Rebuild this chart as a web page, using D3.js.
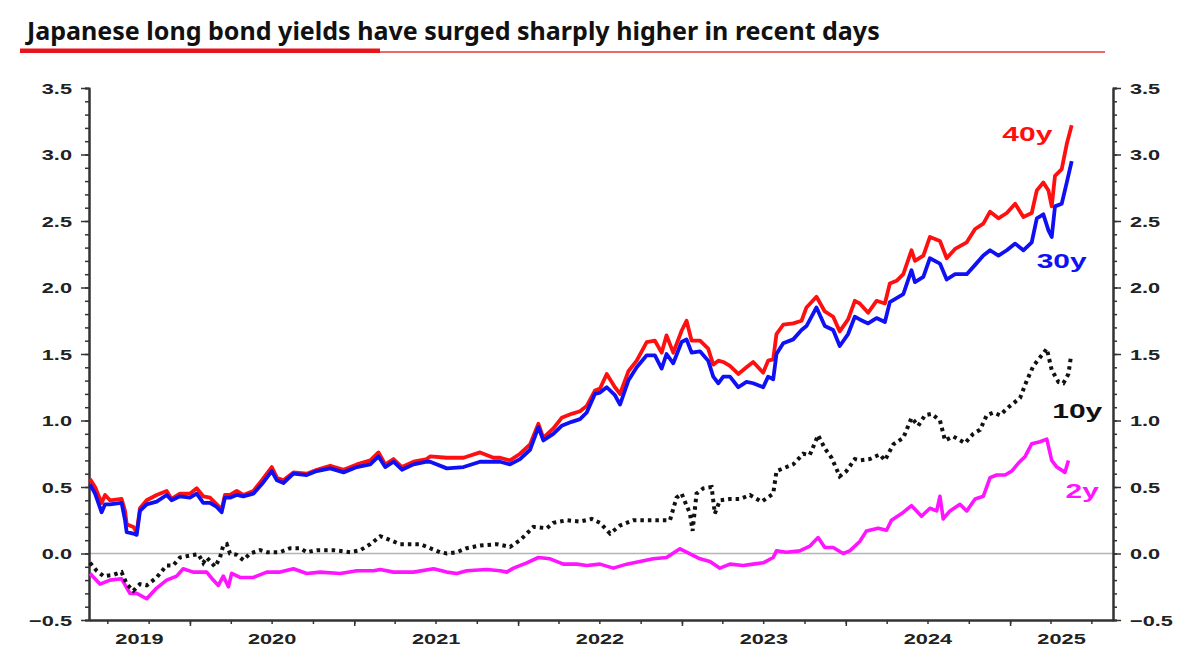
<!DOCTYPE html>
<html>
<head>
<meta charset="utf-8">
<script src="https://cdn.jsdelivr.net/npm/d3@7"></script>
<style>
  html, body { margin: 0; padding: 0; background: #fff; }
  svg { display: block; }
</style>
</head>
<body>
<svg id="chart" width="1200" height="671"></svg>
<script>
// ---------- DATA (decimal year, yield %) ----------
const titleText = "Japanese long bond yields have surged sharply higher in recent days";
const yTickValues = [-0.5, 0.0, 0.5, 1.0, 1.5, 2.0, 2.5, 3.0, 3.5];
const yearLabels = [2019, 2020, 2021, 2022, 2023, 2024, 2025];
const seriesNames = ["40y", "30y", "10y", "2y"];

const y40 = [[2019.390,0.56],[2019.421,0.50],[2019.461,0.38],[2019.482,0.44],[2019.512,0.40],[2019.583,0.41],[2019.604,0.32],[2019.614,0.22],[2019.655,0.20],[2019.675,0.16],[2019.695,0.34],[2019.736,0.40],[2019.797,0.44],[2019.858,0.47],[2019.888,0.41],[2019.939,0.45],[2020.000,0.45],[2020.041,0.49],[2020.081,0.43],[2020.122,0.42],[2020.163,0.37],[2020.193,0.33],[2020.213,0.44],[2020.244,0.44],[2020.285,0.47],[2020.325,0.44],[2020.386,0.47],[2020.437,0.55],[2020.498,0.65],[2020.529,0.57],[2020.569,0.55],[2020.630,0.61],[2020.711,0.60],[2020.772,0.63],[2020.854,0.66],[2020.935,0.63],[2021.016,0.67],[2021.098,0.70],[2021.148,0.76],[2021.189,0.67],[2021.240,0.71],[2021.291,0.65],[2021.362,0.69],[2021.443,0.71],[2021.463,0.73],[2021.565,0.72],[2021.667,0.72],[2021.768,0.76],[2021.850,0.72],[2021.890,0.72],[2021.951,0.70],[2022.012,0.75],[2022.073,0.82],[2022.124,0.975],[2022.154,0.87],[2022.215,0.94],[2022.266,1.02],[2022.327,1.05],[2022.378,1.07],[2022.419,1.11],[2022.469,1.225],[2022.500,1.24],[2022.541,1.35],[2022.591,1.25],[2022.622,1.20],[2022.673,1.37],[2022.724,1.45],[2022.785,1.59],[2022.835,1.60],[2022.876,1.51],[2022.906,1.64],[2022.947,1.51],[2022.998,1.675],[2023.028,1.75],[2023.059,1.60],[2023.110,1.60],[2023.160,1.54],[2023.191,1.42],[2023.222,1.45],[2023.252,1.44],[2023.293,1.41],[2023.344,1.35],[2023.394,1.40],[2023.435,1.44],[2023.496,1.36],[2023.526,1.45],[2023.557,1.46],[2023.577,1.65],[2023.618,1.72],[2023.679,1.73],[2023.730,1.75],[2023.760,1.85],[2023.821,1.93],[2023.872,1.82],[2023.923,1.78],[2023.963,1.67],[2024.014,1.76],[2024.055,1.90],[2024.085,1.88],[2024.136,1.81],[2024.187,1.90],[2024.238,1.88],[2024.268,2.03],[2024.309,2.05],[2024.350,2.10],[2024.400,2.28],[2024.421,2.20],[2024.472,2.24],[2024.512,2.38],[2024.573,2.35],[2024.614,2.22],[2024.665,2.29],[2024.736,2.34],[2024.787,2.44],[2024.837,2.48],[2024.878,2.57],[2024.929,2.52],[2024.980,2.56],[2025.031,2.63],[2025.081,2.53],[2025.132,2.56],[2025.163,2.73],[2025.203,2.79],[2025.234,2.73],[2025.254,2.61],[2025.274,2.84],[2025.315,2.89],[2025.346,3.08],[2025.376,3.22]];

const y30 = [[2019.390,0.52],[2019.421,0.45],[2019.461,0.31],[2019.482,0.37],[2019.512,0.37],[2019.583,0.38],[2019.604,0.25],[2019.614,0.16],[2019.655,0.15],[2019.675,0.14],[2019.695,0.32],[2019.736,0.37],[2019.797,0.39],[2019.858,0.44],[2019.888,0.40],[2019.939,0.43],[2020.000,0.42],[2020.041,0.45],[2020.081,0.38],[2020.122,0.38],[2020.163,0.35],[2020.193,0.31],[2020.213,0.42],[2020.244,0.42],[2020.285,0.44],[2020.325,0.43],[2020.386,0.45],[2020.437,0.52],[2020.498,0.62],[2020.529,0.55],[2020.569,0.53],[2020.630,0.60],[2020.711,0.59],[2020.772,0.62],[2020.854,0.64],[2020.935,0.61],[2021.016,0.65],[2021.098,0.67],[2021.148,0.73],[2021.189,0.65],[2021.240,0.69],[2021.291,0.63],[2021.362,0.67],[2021.443,0.69],[2021.463,0.69],[2021.565,0.64],[2021.667,0.65],[2021.768,0.69],[2021.850,0.69],[2021.890,0.69],[2021.951,0.67],[2022.012,0.71],[2022.073,0.78],[2022.124,0.95],[2022.154,0.85],[2022.215,0.90],[2022.266,0.96],[2022.327,0.99],[2022.378,1.01],[2022.419,1.06],[2022.469,1.20],[2022.500,1.21],[2022.541,1.25],[2022.591,1.19],[2022.622,1.12],[2022.673,1.30],[2022.724,1.40],[2022.785,1.49],[2022.835,1.49],[2022.876,1.39],[2022.906,1.50],[2022.947,1.43],[2022.998,1.59],[2023.028,1.61],[2023.059,1.51],[2023.110,1.52],[2023.160,1.45],[2023.191,1.33],[2023.222,1.28],[2023.252,1.33],[2023.293,1.33],[2023.344,1.25],[2023.394,1.29],[2023.435,1.28],[2023.496,1.25],[2023.526,1.33],[2023.557,1.31],[2023.577,1.50],[2023.618,1.58],[2023.679,1.61],[2023.730,1.68],[2023.760,1.71],[2023.821,1.85],[2023.872,1.71],[2023.923,1.68],[2023.963,1.56],[2024.014,1.65],[2024.055,1.78],[2024.085,1.76],[2024.136,1.73],[2024.187,1.77],[2024.238,1.74],[2024.268,1.89],[2024.309,1.92],[2024.350,1.95],[2024.400,2.13],[2024.421,2.04],[2024.472,2.08],[2024.512,2.22],[2024.573,2.18],[2024.614,2.06],[2024.665,2.10],[2024.736,2.10],[2024.787,2.17],[2024.837,2.24],[2024.878,2.28],[2024.929,2.24],[2024.980,2.28],[2025.031,2.33],[2025.081,2.28],[2025.132,2.34],[2025.163,2.52],[2025.203,2.55],[2025.234,2.43],[2025.254,2.38],[2025.274,2.61],[2025.315,2.63],[2025.346,2.79],[2025.376,2.95]];

const y10 = [[2019.390,-0.07],[2019.431,-0.13],[2019.472,-0.17],[2019.533,-0.16],[2019.583,-0.14],[2019.614,-0.23],[2019.655,-0.28],[2019.695,-0.23],[2019.736,-0.24],[2019.797,-0.18],[2019.858,-0.09],[2019.898,-0.09],[2019.939,-0.03],[2020.000,-0.015],[2020.051,-0.005],[2020.081,-0.07],[2020.102,-0.03],[2020.153,-0.10],[2020.183,-0.03],[2020.203,0.06],[2020.224,0.07],[2020.244,0.00],[2020.285,-0.01],[2020.325,-0.05],[2020.366,0.00],[2020.427,0.025],[2020.468,0.01],[2020.549,0.01],[2020.610,0.04],[2020.671,0.04],[2020.711,0.01],[2020.772,0.025],[2020.874,0.025],[2020.976,0.01],[2021.037,0.025],[2021.098,0.07],[2021.159,0.13],[2021.220,0.10],[2021.281,0.07],[2021.341,0.07],[2021.402,0.07],[2021.463,0.04],[2021.524,0.01],[2021.565,0.00],[2021.626,0.01],[2021.687,0.04],[2021.768,0.06],[2021.870,0.07],[2021.951,0.05],[2022.012,0.10],[2022.094,0.20],[2022.175,0.19],[2022.215,0.23],[2022.297,0.25],[2022.378,0.24],[2022.449,0.26],[2022.500,0.23],[2022.561,0.15],[2022.622,0.21],[2022.703,0.25],[2022.785,0.25],[2022.845,0.25],[2022.927,0.25],[2022.967,0.42],[2022.998,0.45],[2023.049,0.30],[2023.065,0.17],[2023.089,0.45],[2023.130,0.49],[2023.181,0.50],[2023.201,0.30],[2023.232,0.40],[2023.293,0.41],[2023.354,0.41],[2023.415,0.44],[2023.486,0.39],[2023.557,0.45],[2023.577,0.62],[2023.618,0.64],[2023.679,0.67],[2023.740,0.75],[2023.780,0.74],[2023.831,0.89],[2023.872,0.79],[2023.913,0.72],[2023.963,0.58],[2024.004,0.62],[2024.055,0.71],[2024.085,0.70],[2024.146,0.71],[2024.207,0.745],[2024.238,0.70],[2024.289,0.82],[2024.350,0.87],[2024.400,1.02],[2024.441,0.96],[2024.482,1.04],[2024.522,1.05],[2024.573,1.00],[2024.604,0.85],[2024.654,0.88],[2024.726,0.83],[2024.776,0.90],[2024.817,0.93],[2024.858,1.04],[2024.898,1.06],[2024.939,1.04],[2024.990,1.10],[2025.061,1.17],[2025.102,1.30],[2025.142,1.41],[2025.193,1.49],[2025.224,1.54],[2025.254,1.38],[2025.295,1.29],[2025.325,1.28],[2025.356,1.35],[2025.370,1.47]];

const y2 = [[2019.390,-0.15],[2019.451,-0.23],[2019.512,-0.20],[2019.583,-0.19],[2019.634,-0.30],[2019.675,-0.30],[2019.736,-0.34],[2019.797,-0.26],[2019.858,-0.20],[2019.919,-0.17],[2019.959,-0.115],[2020.020,-0.14],[2020.102,-0.14],[2020.142,-0.20],[2020.173,-0.24],[2020.203,-0.17],[2020.234,-0.25],[2020.254,-0.15],[2020.305,-0.18],[2020.386,-0.18],[2020.468,-0.14],[2020.549,-0.14],[2020.630,-0.115],[2020.711,-0.15],[2020.793,-0.14],[2020.915,-0.15],[2021.016,-0.13],[2021.118,-0.13],[2021.159,-0.12],[2021.240,-0.14],[2021.362,-0.14],[2021.484,-0.115],[2021.565,-0.14],[2021.626,-0.15],[2021.687,-0.13],[2021.809,-0.12],[2021.890,-0.13],[2021.931,-0.14],[2021.972,-0.11],[2022.053,-0.07],[2022.124,-0.03],[2022.195,-0.04],[2022.276,-0.08],[2022.358,-0.08],[2022.419,-0.09],[2022.500,-0.08],[2022.581,-0.11],[2022.663,-0.08],[2022.744,-0.06],[2022.825,-0.04],[2022.906,-0.03],[2022.988,0.035],[2023.028,0.01],[2023.110,-0.04],[2023.171,-0.06],[2023.232,-0.11],[2023.293,-0.08],[2023.374,-0.09],[2023.435,-0.08],[2023.496,-0.07],[2023.557,-0.03],[2023.577,0.02],[2023.638,0.01],[2023.719,0.02],[2023.780,0.055],[2023.831,0.12],[2023.872,0.045],[2023.923,0.045],[2023.984,0.00],[2024.024,0.02],[2024.085,0.09],[2024.126,0.17],[2024.197,0.19],[2024.248,0.175],[2024.278,0.25],[2024.340,0.30],[2024.400,0.36],[2024.461,0.28],[2024.512,0.34],[2024.553,0.32],[2024.573,0.43],[2024.593,0.26],[2024.634,0.32],[2024.695,0.37],[2024.736,0.32],[2024.787,0.41],[2024.837,0.43],[2024.878,0.57],[2024.919,0.59],[2024.970,0.59],[2025.010,0.62],[2025.051,0.68],[2025.092,0.73],[2025.132,0.825],[2025.183,0.84],[2025.224,0.86],[2025.254,0.70],[2025.285,0.65],[2025.335,0.61],[2025.356,0.70]];

// ---------- LAYOUT ----------
const M = { left: 89, right: 1113, top: 88, bottom: 620 };
const domainStart = 2019.384, domainEnd = 2025.628;
const textStretch = 1.45;

function dy(t) {
  const y = Math.floor(t);
  const a = Date.UTC(y, 0, 1), b = Date.UTC(y + 1, 0, 1);
  return new Date(a + (t - y) * (b - a));
}

const svg = d3.select("#chart");
const x = d3.scaleUtc().domain([dy(domainStart), dy(domainEnd)]).range([M.left, M.right]);
const y = d3.scaleLinear().domain([-0.5, 3.5]).range([M.bottom, M.top]);

// ---------- TITLE ----------
const title = svg.append("text")
  .attr("x", 27).attr("y", 40)
  .attr("font-family", "'Noto Sans', sans-serif")
  .attr("font-weight", 700)
  .attr("font-size", 24)
  .attr("fill", "#111")
  .text(titleText);
const tl = title.node().getComputedTextLength();
title.attr("font-size", 24 * 853 / tl);

svg.append("rect").attr("x", 20).attr("y", 48.5).attr("width", 360).attr("height", 4.5).attr("fill", "#e8141b");
svg.append("line").attr("x1", 380).attr("x2", 1105).attr("y1", 52).attr("y2", 52)
  .attr("stroke", "#e0383a").attr("stroke-width", 1.4);

// ---------- ZERO LINE ----------
svg.append("line")
  .attr("x1", M.left).attr("x2", M.right)
  .attr("y1", y(0)).attr("y2", y(0))
  .attr("stroke", "#b5b5b5").attr("stroke-width", 1.6);

// ---------- AXES ----------
const fontAxis = "'Liberation Sans', Arial, sans-serif";
const minorY = d3.range(-0.5, 3.5001, 0.1).map(v => Math.round(v * 10) / 10);

function styleAxis(g) {
  g.select(".domain").attr("stroke", "#333").attr("stroke-width", 2);
  g.selectAll(".tick line").attr("stroke", "#333").attr("stroke-width", 1.5);
}

const gLm = svg.append("g").attr("transform", `translate(${M.left},0)`)
  .call(d3.axisLeft(y).tickValues(minorY).tickSize(4).tickFormat(""));
styleAxis(gLm);
const gL = svg.append("g").attr("transform", `translate(${M.left},0)`)
  .call(d3.axisLeft(y).tickValues(yTickValues).tickSize(8).tickSizeOuter(0).tickFormat(d3.format(".1f")));
styleAxis(gL);
gL.selectAll(".tick text")
  .attr("x", -17 / textStretch).attr("dy", "0.36em")
  .attr("transform", `scale(${textStretch},1)`)
  .attr("font-family", fontAxis).attr("font-weight", 700).attr("font-size", 15).attr("fill", "#222");

const gRm = svg.append("g").attr("transform", `translate(${M.right},0)`)
  .call(d3.axisRight(y).tickValues(minorY).tickSize(4).tickFormat(""));
styleAxis(gRm);
const gR = svg.append("g").attr("transform", `translate(${M.right},0)`)
  .call(d3.axisRight(y).tickValues(yTickValues).tickSize(8).tickSizeOuter(0).tickFormat(d3.format(".1f")));
styleAxis(gR);
gR.selectAll(".tick text")
  .attr("x", 17 / textStretch).attr("dy", "0.36em")
  .attr("transform", `scale(${textStretch},1)`)
  .attr("font-family", fontAxis).attr("font-weight", 700).attr("font-size", 15).attr("fill", "#222");

const gBm = svg.append("g").attr("transform", `translate(0,${M.bottom})`)
  .call(d3.axisBottom(x).ticks(d3.utcMonth.every(3)).tickSize(4).tickSizeOuter(0).tickFormat(""));
styleAxis(gBm);
const gB = svg.append("g").attr("transform", `translate(0,${M.bottom})`)
  .call(d3.axisBottom(x).ticks(d3.utcYear.every(1)).tickSize(6).tickSizeOuter(0).tickFormat(""));
styleAxis(gB);

const d0 = x.domain()[0], d1 = x.domain()[1];
svg.append("g").selectAll("text").data(yearLabels).join("text")
  .attr("transform", d => {
    const s = new Date(Math.max(Date.UTC(d, 0, 1), d0));
    const e = new Date(Math.min(Date.UTC(d + 1, 0, 1), d1));
    const cx = (x(s) + x(e)) / 2;
    return `translate(${cx},644) scale(${textStretch},1)`;
  })
  .attr("text-anchor", "middle")
  .attr("font-family", fontAxis).attr("font-weight", 700).attr("font-size", 15).attr("fill", "#222")
  .text(d => d);

// ---------- LINES ----------
const line = d3.line().x(d => x(dy(d[0]))).y(d => y(d[1]));

svg.append("path").datum(y2).attr("d", line)
  .attr("fill", "none").attr("stroke", "#ff14ff").attr("stroke-width", 3.6).attr("stroke-linejoin", "round");
svg.append("path").datum(y10).attr("d", line)
  .attr("fill", "none").attr("stroke", "#111").attr("stroke-width", 4)
  .attr("stroke-dasharray", "3.5,4");
svg.append("path").datum(y40).attr("d", line)
  .attr("fill", "none").attr("stroke", "#ff1010").attr("stroke-width", 3.8).attr("stroke-linejoin", "round");
svg.append("path").datum(y30).attr("d", line)
  .attr("fill", "none").attr("stroke", "#1010f5").attr("stroke-width", 3.8).attr("stroke-linejoin", "round");

// ---------- SERIES LABELS ----------
const labelPos = [
  { name: seriesNames[0], t: 2025.105, v: 3.1, color: "#ff1010" },
  { name: seriesNames[1], t: 2025.315, v: 2.15, color: "#1010f5" },
  { name: seriesNames[2], t: 2025.41, v: 1.02, color: "#111" },
  { name: seriesNames[3], t: 2025.44, v: 0.42, color: "#ff14ff" }
];
svg.append("g").selectAll("text").data(labelPos).join("text")
  .attr("transform", d => `translate(${x(dy(d.t))},${y(d.v)}) scale(1.5,1)`)
  .attr("text-anchor", "middle")
  .attr("font-family", fontAxis).attr("font-weight", 700).attr("font-size", 20)
  .attr("fill", d => d.color)
  .text(d => d.name);
</script>
</body>
</html>
